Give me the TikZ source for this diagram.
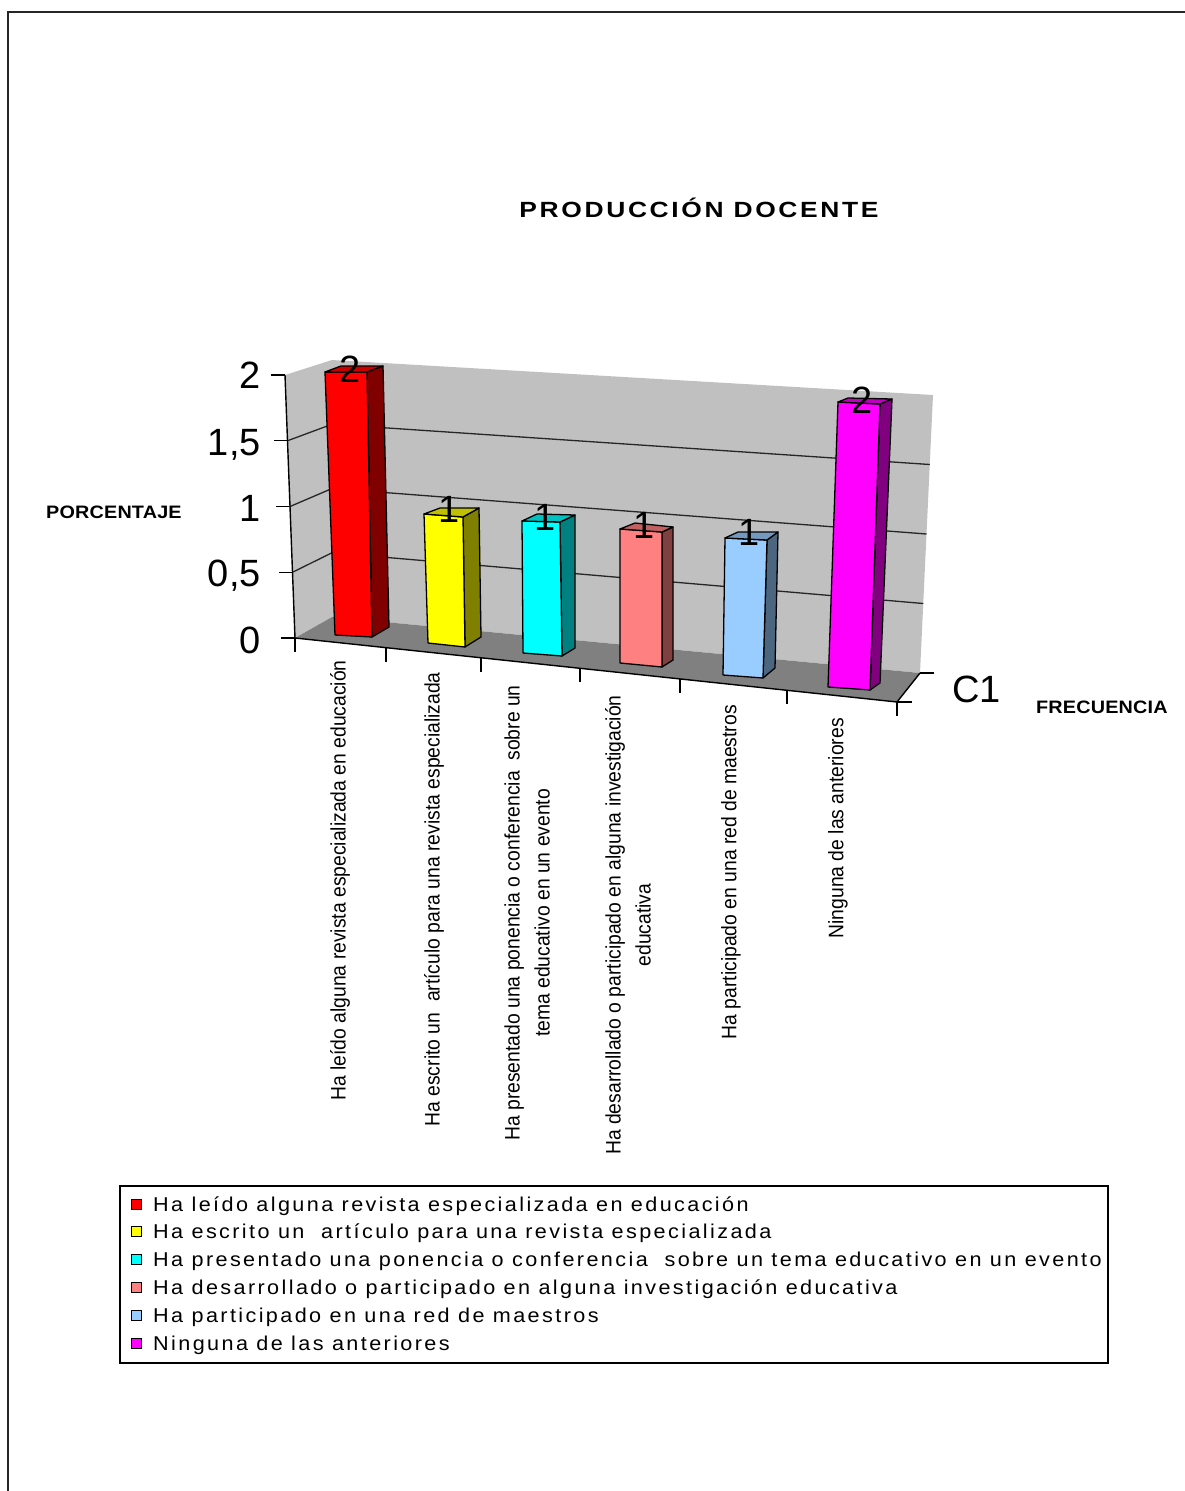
\documentclass[tikz,border=0pt]{standalone}
\usepackage{fontspec}
\setmainfont{Liberation Sans}
\newfontfamily\titfont[FakeStretch=1.2, LetterSpace=12]{Liberation Sans}
\newfontfamily\axtfont[FakeStretch=1.1, LetterSpace=1]{Liberation Sans}
\newfontfamily\legfont[FakeStretch=1.08, LetterSpace=12]{Liberation Sans}
\newfontfamily\catfont[FakeStretch=0.92]{Liberation Sans}
\definecolor{wallgray}{HTML}{C0C0C0}
\definecolor{floorgray}{HTML}{808080}
\definecolor{redF}{HTML}{FF0000}\definecolor{redS}{HTML}{800000}\definecolor{redT}{HTML}{C80000}
\definecolor{yelF}{HTML}{FFFF00}\definecolor{yelS}{HTML}{808000}\definecolor{yelT}{HTML}{C0C000}
\definecolor{cyaF}{HTML}{00FFFF}\definecolor{cyaS}{HTML}{008080}\definecolor{cyaT}{HTML}{00C0C0}
\definecolor{pinF}{HTML}{FF8080}\definecolor{pinS}{HTML}{804040}\definecolor{pinT}{HTML}{C06060}
\definecolor{bluF}{HTML}{99CCFF}\definecolor{bluS}{HTML}{4D6680}\definecolor{bluT}{HTML}{7399BF}
\definecolor{magF}{HTML}{FF00FF}\definecolor{magS}{HTML}{800080}\definecolor{magT}{HTML}{C000C0}
\newcommand\drawbar[8]{%
  \filldraw[barline, fill=#1S] #3 -- #5 -- #8 -- #7 -- cycle;
  \filldraw[barline, fill=#1F] #2 -- #3 -- #7 -- #6 -- cycle;
  \filldraw[barline, fill=#1T] #2 -- #4 -- #5 -- #3 -- cycle;
}
\tikzset{
  barline/.style={draw=black, line width=1.3pt, line join=round},
  axisline/.style={draw=black, line width=1.4pt},
  gridl/.style={draw=black!85, line width=1.3pt},
  bignum/.style={font=\fontsize{38}{40}\selectfont, inner sep=0pt},
  axtitle/.style={font=\axtfont\bfseries\fontsize{18}{20}\selectfont, inner sep=0pt},
  catlab/.style={font=\catfont\fontsize{21}{30}\selectfont, rotate=90, anchor=east, inner sep=0pt, align=center},
  legtext/.style={font=\legfont\fontsize{20}{22}\selectfont, anchor=base west, inner sep=0pt},
  legbox/.style={draw=black, line width=1.2pt},
}
\begin{document}
\begin{tikzpicture}[x=1pt,y=-1pt]
\useasboundingbox (0,0) rectangle (1185,1491);
% page frame
\draw[line width=2.5pt, black!85] (8,1491) -- (8,12) -- (1185,12);
% title
\node[font=\titfont\bfseries\fontsize{22}{26}\selectfont, anchor=base, inner sep=0pt] (title) at (699,217) {PRODUCCIÓN DOCENTE};
% walls and floor
\fill[wallgray] (295,638) -- (285,375) -- (332,360) -- (332,617) -- cycle;
\fill[wallgray] (332,360) -- (933,395) -- (920,673) -- (332,617) -- cycle;
\fill[floorgray] (295,638) -- (332,617) -- (920,673) -- (897,702) -- cycle;
% gridlines
\foreach \v in {0.5,1,1.5}
  \draw[gridl] ({295-5*\v},{638-131.5*\v}) -- (332,{617-128.5*\v}) -- ({920+6.5*\v},{673-139*\v});
% value axis
\draw[axisline] (295,638) -- (285,375);
\foreach \v in {0,0.5,1,1.5,2}
  \draw[axisline] ({295-5*\v},{638-131.5*\v}) -- ({281-5*\v},{638-131.5*\v});
\node[bignum, anchor=base east] (y2) at (261,388) {2};
\node[bignum, anchor=base east] (y15) at (261,455) {1,5};
\node[bignum, anchor=base east] (y1) at (261,521) {1};
\node[bignum, anchor=base east] (y05) at (261,586) {0,5};
\node[bignum, anchor=base east] (y0) at (261,653) {0};
% category axis
\draw[axisline] (295,638) -- (897,702);
\foreach \x in {295,386,481,580,680,787,897}
  \draw[axisline] (\x,{638+(\x-295)/602*64}) -- ++(0,14);
% depth axis
\draw[axisline] (897,702) -- (920,673);
\draw[axisline] (920,673) -- ++(14,0);
\draw[axisline] (897,702) -- ++(15,0);
\node[bignum, anchor=base west] (c1) at (952,702) {C1};
% bars
\drawbar{red}{(325,372)}{(367,372)}{(341,366)}{(383,366)}{(335,635)}{(372,637)}{(389,627)}
\drawbar{yel}{(424,514)}{(463,517)}{(440,508)}{(479,508)}{(428,643)}{(465,647)}{(481,637)}
\drawbar{cya}{(522,521)}{(560,522)}{(537,514)}{(575,515)}{(523,653)}{(562,656)}{(575,648)}
\drawbar{pin}{(620,529)}{(662,532)}{(635,523)}{(673,527)}{(620,663)}{(662,667)}{(673,660)}
\drawbar{blu}{(725,538)}{(767,540)}{(738,532)}{(778,532)}{(723,675)}{(763,678)}{(775,668)}
\drawbar{mag}{(838,402)}{(880,404)}{(848,398)}{(892,399)}{(828,687)}{(870,690)}{(880,683)}
% data labels
\node[bignum, anchor=base] (d1) at (350,382) {2};
\node[bignum, anchor=base] (d2) at (449,522) {1};
\node[bignum, anchor=base] (d3) at (545,530) {1};
\node[bignum, anchor=base] (d4) at (644,538) {1};
\node[bignum, anchor=base] (d5) at (749,545) {1};
\node[bignum, anchor=base] (d6) at (862,413) {2};
% axis titles
\node[axtitle, anchor=base west] (porc) at (46,518) {PORCENTAJE};
\node[axtitle, anchor=base west] (frec) at (1036,713) {FRECUENCIA};
% category labels
\node[catlab] (cat1) at (340,660) {Ha leído alguna revista especializada en educación};
\node[catlab] (cat2) at (434,672) {Ha escrito un~ artículo para una revista especializada};
\node[catlab] (cat3) at (527,685) {Ha presentado una ponencia o conferencia~ sobre un\\tema educativo en un evento};
\node[catlab] (cat4) at (628,695) {Ha desarrollado o participado en alguna investigación\\educativa};
\node[catlab] (cat5) at (731,705) {Ha participado en una red de maestros};
\node[catlab] (cat6) at (838,718) {Ninguna de las anteriores};
% legend
\draw[legbox] (120,1186) rectangle (1108,1363);
\foreach \c/\b in {red/1211, yel/1238.8, cya/1266.6, pin/1294.4, blu/1322.2, mag/1350}
  \filldraw[draw=black, line width=1pt, fill=\c F] (131,\b-12) rectangle (141,\b-2);
\node[legtext] (l1) at (153,1211) {Ha leído alguna revista especializada en educación};
\node[legtext] (l2) at (153,1238.8) {Ha escrito un~ artículo para una revista especializada};
\node[legtext] (l3) at (153,1266.6) {Ha presentado una ponencia o conferencia~ sobre un tema educativo en un evento};
\node[legtext] (l4) at (153,1294.4) {Ha desarrollado o participado en alguna investigación educativa};
\node[legtext] (l5) at (153,1322.2) {Ha participado en una red de maestros};
\node[legtext] (l6) at (153,1350) {Ninguna de las anteriores};
\end{tikzpicture}
\end{document}
